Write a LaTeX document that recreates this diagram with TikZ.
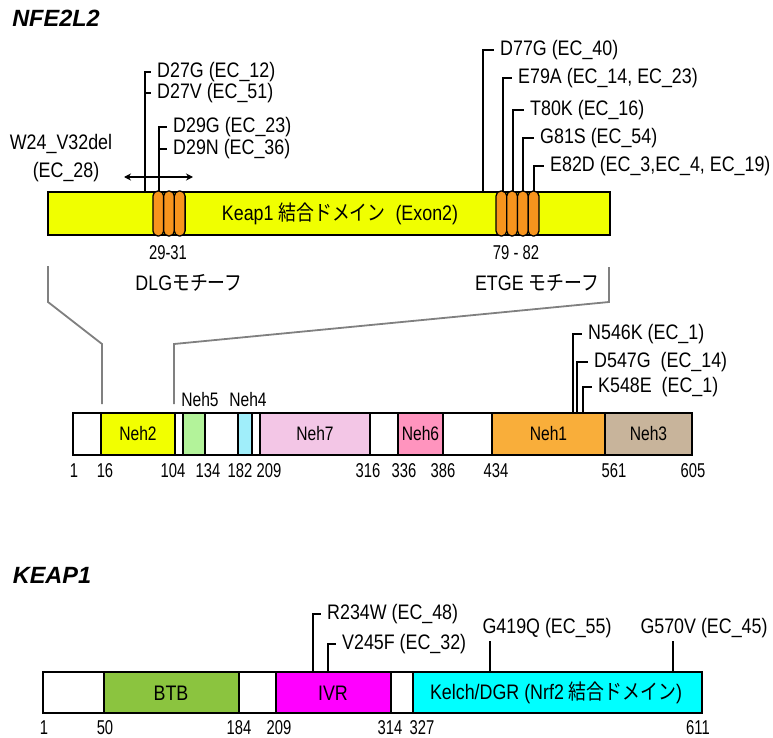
\documentclass[tikz,border=0pt]{standalone}
\usepackage{fontspec}
\usetikzlibrary{arrows.meta}
\setmainfont{Liberation Sans}[FakeStretch=0.85]
\newfontfamily\jp{Noto Sans CJK JP}[FakeStretch=0.85]
\newfontfamily\ttlfont{Liberation Sans}
\newfontfamily\domfont{Liberation Sans}[FakeStretch=0.8]
\newfontfamily\numfont{Liberation Sans}[FakeStretch=0.74]
\definecolor{keapy}{RGB}{240,255,0}
\definecolor{motif}{RGB}{247,148,29}
\definecolor{nehtwo}{RGB}{242,255,0}
\definecolor{nehfive}{RGB}{179,243,154}
\definecolor{nehfour}{RGB}{160,238,250}
\definecolor{nehseven}{RGB}{243,198,230}
\definecolor{nehsix}{RGB}{255,148,190}
\definecolor{nehone}{RGB}{249,174,58}
\definecolor{nehthree}{RGB}{200,180,155}
\definecolor{btb}{RGB}{139,196,63}
\definecolor{ivr}{RGB}{255,0,255}
\definecolor{kelch}{RGB}{0,255,255}
\begin{document}
\begin{tikzpicture}[x=1pt,y=-1pt,>={Stealth[length=7pt,width=7pt]},
    every node/.style={inner sep=0pt},
    txt/.style={font=\fontsize{21}{24}\selectfont},
    mut/.style={txt,anchor=west},
    num/.style={font=\numfont\fontsize{20}{23}\selectfont},
    dom/.style={font=\domfont\fontsize{19.5}{22}\selectfont},
    kdom/.style={font=\fontsize{21}{24}\selectfont},
    ttl/.style={font=\ttlfont\fontsize{23.5}{27}\selectfont\bfseries\itshape},
    seg/.style={draw=black,line width=1.8pt},
    pin/.style={line width=1.3pt},
    zoomline/.style={draw=gray,line width=1.8pt},
    oval/.style={draw=black,line width=1.3pt,fill=motif,rounded corners=5pt}]
    \useasboundingbox (0,0) rectangle (773,738);
    \node[ttl] (nfe) at (56,18) {NFE2L2};
    \node[ttl] (keap) at (52,575) {KEAP1};

    \draw[zoomline] (48,266) -- (48,302) -- (102,344) -- (102,404);
    \draw[zoomline] (609,267) -- (609,302) -- (174,344) -- (174,404);

    \draw[seg,fill=keapy] (48,192) rectangle (610,235);
    \node[kdom] (kbd) at (340,214) {Keap1 {\jp 結合ドメイン}\ \ (Exon2)};
    \node[mut] (d27g) at (157,72) {D27G (EC\_12)};
    \node[mut] (d27v) at (157,93) {D27V (EC\_51)};
    \node[mut] (d29g) at (173,127) {D29G (EC\_23)};
    \node[mut] (d29n) at (173,149) {D29N (EC\_36)};
    \coordinate (a27) at (145,192);
    \coordinate (a29) at (159,192);
    \draw[pin] (a27) |- ([xshift=-6pt]d27g.west);
    \draw[pin] (a27 |- d27v.west) -- ([xshift=-6pt]d27v.west);
    \draw[pin] (a29) |- ([xshift=-6pt]d29g.west);
    \draw[pin] (a29 |- d29n.west) -- ([xshift=-6pt]d29n.west);
    \foreach \n/\px/\tx/\ty/\t in {d77g/483/500/50/{D77G (EC\_40)},
        e79a/503/518/78/{E79A (EC\_14, EC\_23)},
        t80k/513/530/110/{T80K (EC\_16)},
        g81s/523/540/138/{G81S (EC\_54)},
        e82d/534/550/166/{E82D (EC\_3,EC\_4, EC\_19)}}
    {
        \node[mut] (\n) at (\tx,\ty) {\t};
        \coordinate (\n-p) at (\px,192);
        \draw[pin] (\n-p) |- ([xshift=-6pt]\n.west);
    }
    \foreach \x in {158.3,169,179.7,501.4,512.1,522.9,533.6}
    {
        \draw[oval] ({\x-5.4},191) rectangle ({\x+5.4},236);
    }
    \coordinate (wl) at (124,177);
    \coordinate (wr) at (193,177);
    \draw[pin,<->] (wl) -- (wr);
    \node[txt] (w24) at (61,144) {W24\_V32del};
    \node[txt] (ec28) at (66,172) {(EC\_28)};
    \node[num] (m29) at (168,253) {29-31};
    \node[txt] (dlg) at (189,283) {DLG{\jp モチーフ}};
    \node[num] (m79) at (516,253) {79 - 82};
    \node[txt] (etge) at (537,283) {ETGE {\jp モチーフ}};

    \draw[seg] (73,413) rectangle (692,455);
    \foreach \a/\b/\c/\t in {101/175/nehtwo/Neh2,260/370/nehseven/Neh7,
        398/443/nehsix/Neh6,492/605/nehone/Neh1,605/692/nehthree/Neh3}
    {
        \draw[seg,fill=\c] (\a,413) rectangle (\b,455);
        \node[dom] (\t) at ({(\a+\b)/2},434) {\t};
    }
    \draw[seg,fill=nehfive] (183,413) rectangle (205,455);
    \draw[seg,fill=nehfour] (238,413) rectangle (252,455);
    \node[dom] (Neh5) at (200,400) {Neh5};
    \node[dom] (Neh4) at (248,400) {Neh4};
    \foreach \x/\t in {74/1,105/16,173/104,208/134,240/182,269/209,368/316,
        404/336,443/386,496/434,614/561,693/605}
    {
        \node[num] (n\t) at (\x,471) {\t};
    }
    \foreach \n/\px/\tx/\ty/\t in {n546k/573/588/334/{N546K (EC\_1)},
        d547g/577/594/362/{D547G\ \ (EC\_14)},
        k548e/583/598/387/{K548E\ \ (EC\_1)}}
    {
        \node[mut] (\n) at (\tx,\ty) {\t};
        \coordinate (\n-p) at (\px,413);
        \draw[pin] (\n-p) |- ([xshift=-6pt]\n.west);
    }

    \draw[seg] (43,672) rectangle (702,713);
    \draw[seg,fill=btb] (104,672) rectangle (239,713);
    \draw[seg,fill=ivr] (276,672) rectangle (391,713);
    \draw[seg,fill=kelch] (413,672) rectangle (702,713);
    \node[kdom] (BTB) at (171,693) {BTB};
    \node[kdom] (IVR) at (333,693) {IVR};
    \node[kdom] (kel) at (556,693) {Kelch/DGR (Nrf2 {\jp 結合ドメイン})};
    \foreach \x/\t in {44/1,105/50,239/184,279/209,390/314,422/327,698/611}
    {
        \node[num] (k\t) at (\x,728) {\t};
    }
    \foreach \n/\px/\tx/\ty/\t in {r234w/313/327/614/{R234W (EC\_48)},
        v245f/328/342/644/{V245F (EC\_32)}}
    {
        \node[mut] (\n) at (\tx,\ty) {\t};
        \coordinate (\n-p) at (\px,672);
        \draw[pin] (\n-p) |- ([xshift=-6pt]\n.west);
    }
    \node[txt,inner sep=3pt] (g419q) at (547,628) {G419Q (EC\_55)};
    \node[txt,inner sep=3pt] (g570v) at (704,628) {G570V (EC\_45)};
    \coordinate (g419q-p) at (490,672);
    \coordinate (g570v-p) at (673,672);
    \draw[pin] (g419q-p) -- (g419q-p |- g419q.south);
    \draw[pin] (g570v-p) -- (g570v-p |- g570v.south);
\end{tikzpicture}
\end{document}
